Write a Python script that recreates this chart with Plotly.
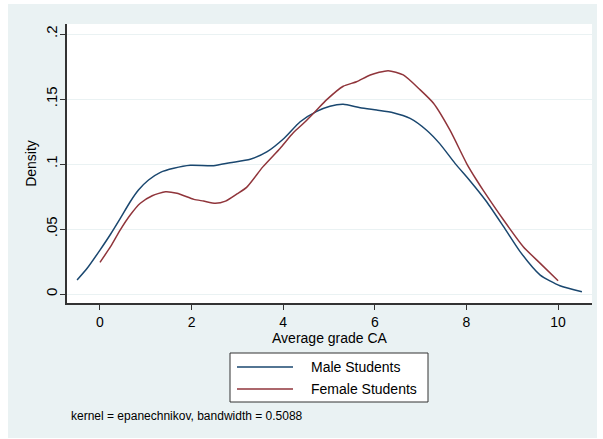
import plotly.graph_objects as go

# ---- data ----
male_x = [-0.5, -0.28, 0.0, 0.23, 0.44, 0.66, 0.84, 1.06, 1.32, 1.61, 1.97, 2.48, 2.84, 3.28,
          3.65, 4.02, 4.37, 4.73, 5.02, 5.31, 5.68, 6.04, 6.40, 6.77, 7.13, 7.42, 7.75, 8.08,
          8.44, 8.81, 9.17, 9.61, 10.04, 10.52]
male_y = [0.0108, 0.0198, 0.0338, 0.046, 0.058, 0.071, 0.080, 0.0877, 0.0936, 0.0967, 0.099,
          0.0987, 0.101, 0.1037, 0.1095, 0.1198, 0.1325, 0.1405, 0.1445, 0.146, 0.1433, 0.1415,
          0.1395, 0.1351, 0.126, 0.1155, 0.1005, 0.087, 0.071, 0.0518, 0.0326, 0.0146, 0.0064,
          0.0018]

female_x = [0.0, 0.23, 0.44, 0.66, 0.88, 1.14, 1.43, 1.68, 2.05, 2.26, 2.52, 2.74, 2.99, 3.20,
            3.56, 3.93, 4.22, 4.48, 4.73, 4.95, 5.31, 5.60, 5.90, 6.29, 6.62, 6.99, 7.28, 7.64,
            8.01, 8.22, 8.37, 8.81, 9.24, 9.61, 10.0]
female_y = [0.0244, 0.0364, 0.0492, 0.0608, 0.0698, 0.0756, 0.0787, 0.0775, 0.0728, 0.0715,
            0.0698, 0.0715, 0.0770, 0.0820, 0.098, 0.112, 0.124, 0.1325, 0.1415, 0.1495, 0.1598,
            0.1633, 0.1685, 0.1718, 0.1685, 0.157, 0.1467, 0.126, 0.100, 0.0877, 0.0795, 0.0569,
            0.0364, 0.0236, 0.0102]

series_names = ["Male Students", "Female Students"]
series_colors = ["#1a476f", "#90353b"]
x_ticks = [0, 2, 4, 6, 8, 10]
y_ticks = [0, 0.05, 0.1, 0.15, 0.2]
y_ticktext = ["0", ".05", ".1", ".15", ".2"]
note_text = "kernel = epanechnikov, bandwidth = 0.5088"

FONT = "Liberation Sans, Arial, sans-serif"
BG = "#eaf2f3"

W, H = 603, 439
ML, MR, MT, MB = 67, 11, 24, 136
PW, PH = W - ML - MR, H - MT - MB


def px2x(px):
    return (px - ML) / PW


def px2y(py):
    return (H - MB - py) / PH


fig = go.Figure()
for xs, ys, name, col in zip([male_x, female_x], [male_y, female_y], series_names, series_colors):
    fig.add_trace(go.Scatter(x=xs, y=ys, mode="lines", name=name,
                             line=dict(color=col, width=1.5, shape="spline", smoothing=0.6),
                             showlegend=False))

shapes = [
    # gray graph region
    dict(type="rect", xref="paper", yref="paper", x0=px2x(8), x1=px2x(597),
         y0=px2y(438), y1=px2y(4), fillcolor=BG, line=dict(width=0), layer="below"),
    # white plot region
    dict(type="rect", xref="paper", yref="paper", x0=0, x1=px2x(592),
         y0=0, y1=1, fillcolor="white", line=dict(width=0), layer="below"),
    # legend box
    dict(type="rect", xref="paper", yref="paper", x0=px2x(230), x1=px2x(428),
         y0=px2y(402), y1=px2y(353), fillcolor="white",
         line=dict(color="#333333", width=1)),
]
annotations = []
leg_y = [367, 389]
for i, (name, col) in enumerate(zip(series_names, series_colors)):
    shapes.append(dict(type="line", xref="paper", yref="paper", x0=px2x(237), x1=px2x(293),
                       y0=px2y(leg_y[i]), y1=px2y(leg_y[i]), line=dict(color=col, width=1.5)))
    annotations.append(dict(text=name, xref="paper", yref="paper", x=px2x(309), y=px2y(leg_y[i]),
                            xanchor="left", yanchor="middle", showarrow=False,
                            font=dict(family=FONT, size=14, color="#000000")))
annotations.append(dict(text=note_text, xref="paper", yref="paper", x=px2x(69), y=px2y(416),
                        xanchor="left", yanchor="middle", showarrow=False,
                        font=dict(family=FONT, size=12, color="#000000")))

fig.update_layout(
    width=W, height=H,
    margin=dict(l=ML, r=MR, t=MT, b=MB, pad=0),
    paper_bgcolor="white", plot_bgcolor="white",
    font=dict(family=FONT, size=14, color="#000000"),
    shapes=shapes, annotations=annotations,
    showlegend=False,
    xaxis=dict(range=[-0.72, 10.74], tickvals=x_ticks, ticks="outside", ticklen=5,
               tickcolor="#333333", tickwidth=1, showline=True, linecolor="#333333",
               linewidth=1.5, showgrid=False, zeroline=False,
               title=dict(text="Average grade CA", standoff=2, font=dict(size=14)),
               tickfont=dict(size=14)),
    yaxis=dict(range=[-0.0069, 0.2077], tickvals=y_ticks, ticktext=y_ticktext, tickangle=-90,
               ticks="outside", ticklen=5, tickcolor="#333333", tickwidth=1, showline=True,
               linecolor="#333333", linewidth=1.5, showgrid=True, gridcolor=BG, gridwidth=1,
               zeroline=False, ticklabelstandoff=-3,
               title=dict(text="Density", standoff=3, font=dict(size=14)),
               tickfont=dict(size=15)),
)

fig.write_html("out.html")
